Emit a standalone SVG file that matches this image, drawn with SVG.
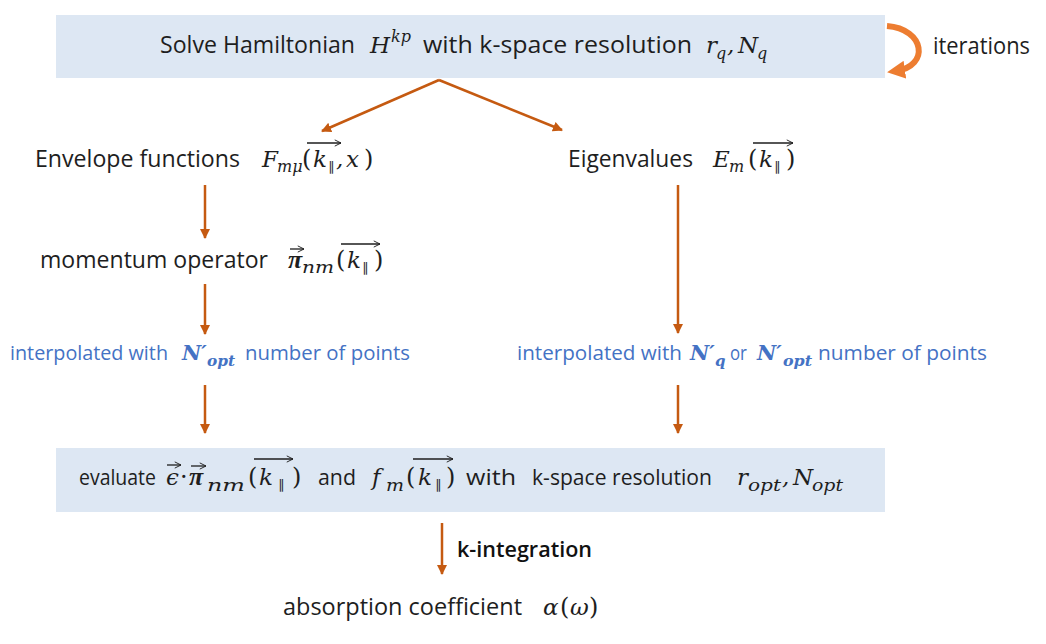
<svg xmlns="http://www.w3.org/2000/svg" width="1046" height="644" viewBox="0 0 1046 644">
<style>
.t{font-family:"Open Sans","Liberation Sans",sans-serif;font-size:23px;fill:#1e1e1e}
.t2{font-family:"Open Sans","Liberation Sans",sans-serif;font-size:22px;fill:#1e1e1e}
.m{font-family:"DejaVu Serif","Liberation Serif",serif;font-style:italic;font-size:23px;fill:#1e1e1e}
.pi{font-family:"Liberation Serif","DejaVu Serif",serif;font-style:italic;font-weight:bold;font-size:26px;fill:#1e1e1e}
.mu{font-family:"DejaVu Serif","Liberation Serif",serif;font-style:normal;font-size:24px;fill:#1e1e1e}
.s{font-family:"DejaVu Serif","Liberation Serif",serif;font-style:italic;font-size:16px;fill:#1e1e1e}
.pl{font-family:"DejaVu Sans","Liberation Sans",sans-serif;font-size:13px;fill:#1e1e1e}
.b{font-family:"Open Sans","Liberation Sans",sans-serif;font-size:20px;fill:#4472c4}
.bm{font-family:"DejaVu Serif","Liberation Serif",serif;font-style:italic;font-weight:bold;font-size:21px;fill:#4472c4}
.bs{font-family:"DejaVu Serif","Liberation Serif",serif;font-style:italic;font-weight:bold;font-size:15px;fill:#4472c4}
.box{fill:#dde7f3}
.c{stroke:#c55a11;stroke-width:2.5;fill:none}
.v{stroke:#1e1e1e;stroke-width:1.3;fill:none}
</style>
<defs>
<marker id="ah" viewBox="0 0 10 10" refX="9" refY="5" markerWidth="4" markerHeight="4" orient="auto" markerUnits="strokeWidth">
<path d="M0,0 L10,5 L0,10 z" fill="#c55a11"/>
</marker>
<marker id="ai" viewBox="0 0 10 10" refX="5" refY="5" markerWidth="3" markerHeight="3" orient="auto" markerUnits="strokeWidth">
<path d="M0,0 L10,5 L0,10 z" fill="#ed7d31"/>
</marker>
<marker id="va" viewBox="0 0 10 10" refX="9" refY="5" markerWidth="6" markerHeight="6" orient="auto" markerUnits="strokeWidth">
<path d="M1,1 L9,5 L1,9" fill="none" stroke="#1e1e1e" stroke-width="1.2"/>
</marker>
</defs>

<g id="connectors">
<path class="c" d="M439,80 L322,131" marker-end="url(#ah)"/>
<path class="c" d="M439,80 L562,130" marker-end="url(#ah)"/>
<path class="c" d="M205,185 L205,238" marker-end="url(#ah)"/>
<path class="c" d="M205,284 L205,334" marker-end="url(#ah)"/>
<path class="c" d="M205,385 L205,433" marker-end="url(#ah)"/>
<path class="c" d="M678,185 L678,333" marker-end="url(#ah)"/>
<path class="c" d="M678,385 L678,433" marker-end="url(#ah)"/>
<path class="c" d="M442,523 L442,574" marker-end="url(#ah)"/>
<path d="M887,26 C925,29 930,66 896,71" stroke="#ed7d31" stroke-width="6" fill="none" marker-end="url(#ai)"/>
<text x="457" y="557" textLength="135" lengthAdjust="spacingAndGlyphs" style="font-family:'Open Sans','Liberation Sans',sans-serif;font-size:21px;fill:#111;font-weight:600">k-integration</text>
<text x="933" y="54" class="t" textLength="97" lengthAdjust="spacingAndGlyphs">iterations</text>
</g>

<g id="solve">
<rect class="box" x="56" y="15" width="829" height="63"/>
<text x="160" y="53" class="t" textLength="195" lengthAdjust="spacingAndGlyphs">Solve Hamiltonian</text>
<text x="370" y="53" class="m">H</text>
<text x="391" y="42" class="s">kp</text>
<text x="423" y="53" class="t" textLength="269" lengthAdjust="spacingAndGlyphs">with k-space resolution</text>
<text x="706" y="53" class="m">r</text>
<text x="716" y="59" class="s">q</text>
<text x="727" y="53" class="m">,</text>
<text x="738" y="53" class="m">N</text>
<text x="757" y="59" class="s">q</text>
</g>

<g id="envelope">
<text x="35" y="167" class="t" textLength="205" lengthAdjust="spacingAndGlyphs">Envelope functions</text>
<text x="262" y="167" class="m">F</text>
<text x="277" y="172" class="s">mμ</text>
<text x="302" y="167" class="mu">(</text>
<text x="313" y="167" class="m">k</text>
<text x="328" y="171" class="pl">∥</text>
<text x="336" y="167" class="m">,</text>
<text x="346" y="167" class="m">x</text>
<text x="364" y="167" class="mu">)</text>
<line class="v" x1="307" y1="143" x2="341" y2="143" marker-end="url(#va)"/>
</g>

<g id="eigen">
<text x="568" y="167" class="t" textLength="125" lengthAdjust="spacingAndGlyphs">Eigenvalues</text>
<text x="713" y="167" class="m">E</text>
<text x="729" y="172" class="s">m</text>
<text x="748" y="167" class="mu">(</text>
<text x="759" y="167" class="m">k</text>
<text x="774" y="171" class="pl">∥</text>
<text x="786" y="167" class="mu">)</text>
<line class="v" x1="753" y1="143" x2="793" y2="143" marker-end="url(#va)"/>
</g>

<g id="momentum">
<text x="40" y="268" class="t" textLength="228" lengthAdjust="spacingAndGlyphs">momentum operator</text>
<text x="288" y="268" class="pi">π</text>
<text x="302" y="273" class="s" textLength="32" lengthAdjust="spacingAndGlyphs">nm</text>
<text x="336" y="268" class="mu">(</text>
<text x="347" y="268" class="m">k</text>
<text x="362" y="272" class="pl">∥</text>
<text x="374" y="268" class="mu">)</text>
<line class="v" x1="290" y1="249" x2="304" y2="249" marker-end="url(#va)"/>
<line class="v" x1="341" y1="244" x2="380" y2="244" marker-end="url(#va)"/>
</g>

<g id="interp-left">
<text x="10" y="360" class="b" textLength="158" lengthAdjust="spacingAndGlyphs">interpolated with</text>
<text x="182" y="360" class="bm">N′</text>
<text x="207" y="366" class="bs" textLength="28" lengthAdjust="spacingAndGlyphs">opt</text>
<text x="245" y="360" class="b" textLength="165" lengthAdjust="spacingAndGlyphs">number of points</text>
</g>

<g id="interp-right">
<text x="517" y="360" class="b" textLength="165" lengthAdjust="spacingAndGlyphs">interpolated with</text>
<text x="690" y="360" class="bm">N′</text>
<text x="715" y="366" class="bs">q</text>
<text x="730" y="360" class="b" textLength="17" lengthAdjust="spacingAndGlyphs">or</text>
<text x="757" y="360" class="bm">N′</text>
<text x="783" y="366" class="bs" textLength="29" lengthAdjust="spacingAndGlyphs">opt</text>
<text x="818" y="360" class="b" textLength="169" lengthAdjust="spacingAndGlyphs">number of points</text>
</g>

<g id="evaluate">
<rect class="box" x="56" y="448" width="829" height="64"/>
<text x="79" y="485" class="t2" textLength="77" lengthAdjust="spacingAndGlyphs">evaluate</text>
<text x="166" y="485" class="m">ϵ</text>
<line class="v" x1="167" y1="465" x2="181" y2="465" marker-end="url(#va)"/>
<text x="180" y="485" class="mu">·</text>
<text x="189" y="485" class="pi">π</text>
<line class="v" x1="191" y1="466" x2="206" y2="466" marker-end="url(#va)"/>
<text x="207" y="491" class="s" textLength="38" lengthAdjust="spacingAndGlyphs">nm</text>
<text x="248" y="485" class="mu">(</text>
<text x="259" y="485" class="m">k</text>
<text x="278" y="489" class="pl">∥</text>
<text x="292" y="485" class="mu">)</text>
<line class="v" x1="254" y1="459" x2="293" y2="459" marker-end="url(#va)"/>
<text x="318" y="485" class="t2" textLength="38" lengthAdjust="spacingAndGlyphs">and</text>
<text x="372" y="485" class="m">f</text>
<text x="386" y="491" class="s" textLength="18" lengthAdjust="spacingAndGlyphs">m</text>
<text x="406" y="485" class="mu">(</text>
<text x="418" y="485" class="m">k</text>
<text x="435" y="489" class="pl">∥</text>
<text x="446" y="485" class="mu">)</text>
<line class="v" x1="413" y1="459" x2="453" y2="459" marker-end="url(#va)"/>
<text x="466" y="485" class="t2" textLength="50" lengthAdjust="spacingAndGlyphs">with</text>
<text x="532" y="485" class="t2" textLength="180" lengthAdjust="spacingAndGlyphs">k-space resolution</text>
<text x="737" y="485" class="m">r</text>
<text x="748" y="491" class="s" textLength="33" lengthAdjust="spacingAndGlyphs">opt</text>
<text x="782" y="485" class="m">,</text>
<text x="793" y="485" class="m">N</text>
<text x="812" y="491" class="s" textLength="31" lengthAdjust="spacingAndGlyphs">opt</text>
</g>

<g id="absorption">
<text x="283" y="615" class="t" textLength="239" lengthAdjust="spacingAndGlyphs">absorption coefficient</text>
<text x="543" y="615" class="m">α</text>
<text x="560" y="615" class="mu">(</text>
<text x="570" y="615" class="m">ω</text>
<text x="589" y="615" class="mu">)</text>
</g>
</svg>
